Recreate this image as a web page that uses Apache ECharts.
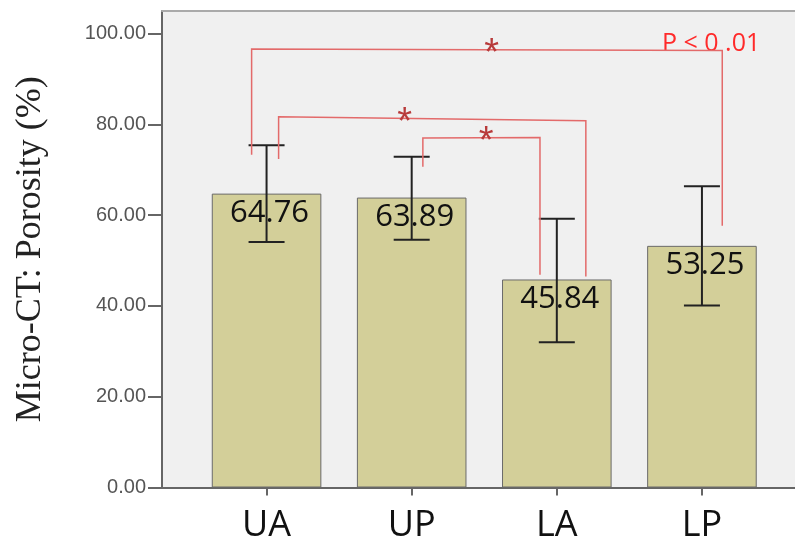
<!DOCTYPE html>
<html><head><meta charset="utf-8">
<script src="https://cdn.jsdelivr.net/npm/echarts@6/dist/echarts.min.js"></script>
<style>html,body{margin:0;padding:0;background:#fff}#c{width:795px;height:549px}</style>
</head><body><div id="c"></div>
<script>
// ---- data ----
const categories = ['UA', 'UP', 'LA', 'LP'];
const means = [64.76, 63.89, 45.84, 53.25];
const errLow = [54.1, 54.6, 32.0, 40.1];
const errHigh = [75.4, 72.9, 59.2, 66.4];
const yTicks = [0, 20, 40, 60, 80, 100];
// significance brackets: from category, to category, bracket heights, leg ends
const sigFrom = [0, 0, 1];
const sigTo = [3, 2, 2];
const sigLevelFrom = [96.6, 81.7, 77.0];
const sigLevelTo = [96.3, 80.8, 77.1];
const sigEndFrom = [73.3, 72.4, 70.7];
const sigEndTo = [57.7, 46.5, 46.9];
const sigMark = ['*', '*', '*'];
const pText = 'P < 0 .01';

// ---- style (leg offsets in band fractions, star position along bracket) ----
const legOffFrom = [-0.103, 0.083, 0.077];
const legOffTo = [0.14, 0.2, -0.116];
const starAlong = [0.51, 0.41, 0.54];

const chart = echarts.init(document.getElementById('c'), null, {renderer: 'canvas'});
const axisGray = '#666';
const option = {
  animation: false,
  title: {
    text: pText, left: 657, top: 26,
    textStyle: {color: '#ff2a2a', fontSize: 25, fontWeight: 'normal', fontFamily: 'Open Sans'}
  },
  grid: [
    {left: 162, right: 0, top: 11, bottom: 61.5, show: true, backgroundColor: '#f0f0f0', borderWidth: 0},
    {left: 194, right: 20.5, top: 11, bottom: 61.5}
  ],
  xAxis: [
    {gridIndex: 0, type: 'value', min: 0, max: 1, position: 'bottom',
     axisLine: {show: true, lineStyle: {color: axisGray, width: 2}},
     axisTick: {show: false}, axisLabel: {show: false}, splitLine: {show: false}},
    {gridIndex: 0, type: 'value', min: 0, max: 1, position: 'top',
     axisLine: {show: true, lineStyle: {color: '#aaa', width: 2}},
     axisTick: {show: false}, axisLabel: {show: false}, splitLine: {show: false}},
    {gridIndex: 1, type: 'category', data: categories, position: 'bottom',
     axisLine: {show: false},
     axisTick: {show: true, alignWithLabel: true, length: 8, lineStyle: {color: axisGray, width: 2}},
     axisLabel: {fontSize: 36, fontFamily: 'Open Sans', color: '#111', margin: 20},
     splitLine: {show: false}}
  ],
  yAxis: [
    {gridIndex: 0, type: 'value', min: 0, max: 105,
     name: 'Micro-CT: Porosity (%)', nameLocation: 'middle', nameGap: 113,
     nameTextStyle: {fontFamily: 'Liberation Serif', fontSize: 36, color: '#222'},
     axisLine: {show: true, lineStyle: {color: axisGray, width: 2}},
     axisTick: {show: true, customValues: yTicks, length: 14, lineStyle: {color: axisGray, width: 2}},
     axisLabel: {customValues: yTicks, formatter: v => v.toFixed(2), fontSize: 20,
                 fontFamily: 'Liberation Sans', color: '#555', margin: 16},
     splitLine: {show: false}},
    {gridIndex: 1, type: 'value', min: 0, max: 105, show: false}
  ],
  series: [
    {
      type: 'bar', xAxisIndex: 2, yAxisIndex: 1, data: means, barWidth: '75.5%',
      itemStyle: {color: '#d3cf99', borderColor: '#6a6a6a', borderWidth: 1},
      label: {show: true, position: 'insideTop', distance: 4, offset: [3, 0],
              fontSize: 31, fontFamily: 'Open Sans', color: '#111',
              formatter: p => p.value.toFixed(2)},
      z: 2
    },
    {
      type: 'custom', xAxisIndex: 2, yAxisIndex: 1, z: 10,
      data: categories.map((c, i) => [i, errLow[i], errHigh[i]]),
      encode: {x: 0, y: [1, 2]},
      renderItem: (params, api) => {
        const lo = api.coord([api.value(0), api.value(1)]);
        const hi = api.coord([api.value(0), api.value(2)]);
        const hw = 18;
        const st = {stroke: '#222', lineWidth: 2};
        return {type: 'group', children: [
          {type: 'line', shape: {x1: lo[0], y1: lo[1], x2: hi[0], y2: hi[1]}, style: st},
          {type: 'line', shape: {x1: lo[0] - hw, y1: lo[1], x2: lo[0] + hw, y2: lo[1]}, style: st},
          {type: 'line', shape: {x1: hi[0] - hw, y1: hi[1], x2: hi[0] + hw, y2: hi[1]}, style: st}
        ]};
      }
    },
    {
      type: 'custom', xAxisIndex: 2, yAxisIndex: 1, z: 11,
      data: sigFrom.map((f, i) => [f, sigTo[i], sigLevelFrom[i], sigLevelTo[i], sigEndFrom[i], sigEndTo[i]]),
      encode: {x: [0, 1], y: [2, 3, 4, 5]},
      renderItem: (params, api) => {
        const i = params.dataIndex;
        const band = api.size([1, 0])[0];
        const a = api.coord([api.value(0), api.value(2)]);
        const b = api.coord([api.value(1), api.value(3)]);
        const ae = api.coord([api.value(0), api.value(4)]);
        const be = api.coord([api.value(1), api.value(5)]);
        const x1 = a[0] + legOffFrom[i] * band;
        const x2 = b[0] + legOffTo[i] * band;
        const st = {stroke: '#e36a6a', lineWidth: 1.5, fill: null};
        const sx = x1 + (x2 - x1) * starAlong[i];
        const sy = a[1] + (b[1] - a[1]) * starAlong[i];
        return {type: 'group', children: [
          {type: 'polyline', shape: {points: [[x1, ae[1]], [x1, a[1]], [x2, b[1]], [x2, be[1]]]}, style: st},
          {type: 'text', x: sx, y: sy + 5, style: {text: sigMark[i], fill: '#b83a3a', fontSize: 38,
            fontFamily: 'Liberation Sans', align: 'center', verticalAlign: 'middle'}}
        ]};
      }
    }
  ]
};
chart.setOption(option);
</script>
</body></html>
